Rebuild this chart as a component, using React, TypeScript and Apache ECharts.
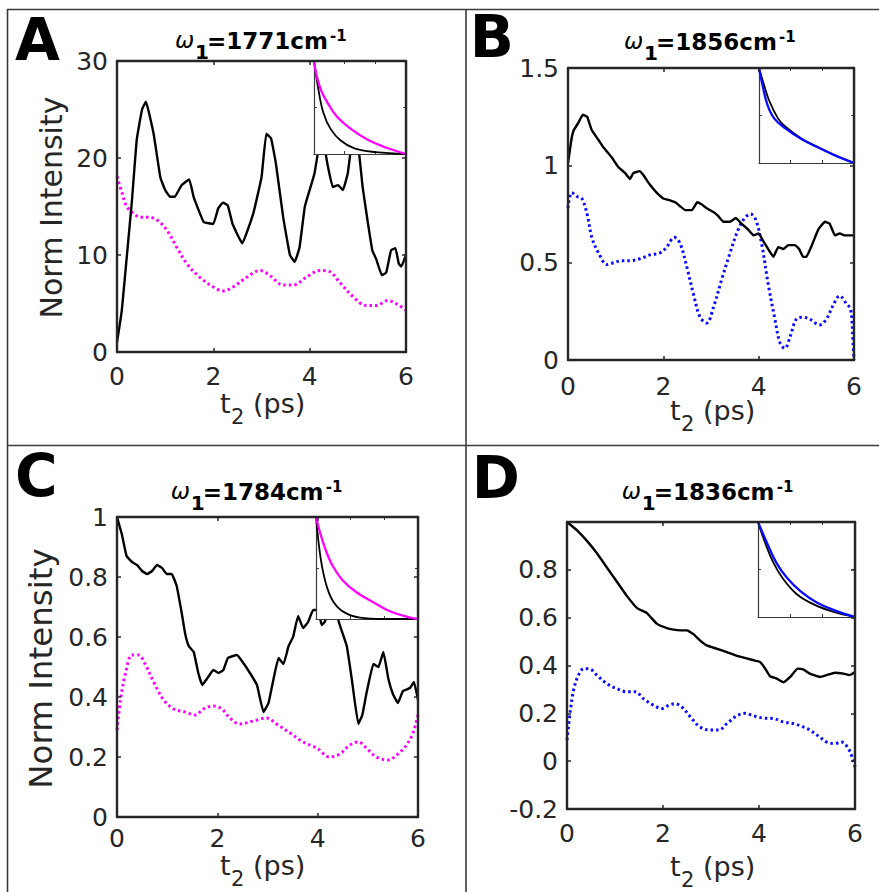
import { useEffect, useRef } from "react";
import * as echarts from "echarts";

const FONT = "'DejaVu Sans', 'Liberation Sans', Arial, sans-serif";
const AX = "#262626";

type P = [number, number];

// ---------- data ----------
const panelLetters = ["A", "B", "C", "D"];
const titleNumbers = ["1771", "1856", "1784", "1836"];
const xTicks = { min: 0, max: 6, interval: 2 };
const yRanges = [
  { min: 0, max: 30, interval: 10 },
  { min: 0, max: 1.5, interval: 0.5 },
  { min: 0, max: 1, interval: 0.2 },
  { min: -0.2, max: 1, interval: 0.2 },
];

const aBlack: P[] = [
  [0, 1.0], [0.1, 4.3], [0.21, 10.2], [0.31, 15.6], [0.41, 21.9], [0.52, 25], [0.6, 25.8],
  [0.76, 22.5], [0.9, 18], [1.0, 16.7], [1.1, 16], [1.2, 16], [1.34, 17.2], [1.5, 17.8],
  [1.59, 16], [1.8, 13.4], [2.0, 13.2], [2.1, 14.8], [2.2, 15.4], [2.3, 15.1], [2.4, 13.2],
  [2.6, 11.2], [2.83, 14.3], [3.0, 18], [3.1, 22.5], [3.2, 22], [3.3, 19.4], [3.45, 13.9],
  [3.59, 10], [3.69, 9.3], [3.79, 10.8], [3.9, 15], [4.03, 17.2], [4.1, 18.4], [4.17, 20.5],
  [4.25, 22.5], [4.34, 20.2], [4.38, 19.1], [4.48, 17], [4.59, 17.2], [4.69, 16.7],
  [4.79, 18.4], [4.84, 20.3], [4.93, 23], [5.03, 20.3], [5.1, 17], [5.2, 13.6], [5.3, 10.5],
  [5.38, 9.6], [5.5, 7.9], [5.59, 8.2], [5.69, 10.5], [5.78, 10.7], [5.85, 9.1], [5.9, 8.8],
  [6.0, 10],
];
const aMagenta: P[] = [
  [0, 18.1], [0.1, 16.5], [0.2, 15], [0.34, 14.3], [0.48, 13.9], [0.66, 13.9], [0.83, 13.6],
  [1.03, 12.6], [1.24, 10.8], [1.45, 9.1], [1.72, 7.7], [2.0, 6.7], [2.2, 6.3], [2.41, 6.7],
  [2.69, 7.7], [2.97, 8.4], [3.17, 7.9], [3.45, 6.9], [3.66, 6.9], [3.93, 7.7], [4.21, 8.4],
  [4.41, 8.3], [4.62, 7.2], [4.9, 5.7], [5.17, 4.8], [5.38, 4.8], [5.62, 5.3], [5.79, 5.0],
  [6, 4.3],
];
const bBlack: P[] = [
  [0, 1.01], [0.07, 1.13], [0.12, 1.18], [0.22, 1.22], [0.31, 1.26], [0.4, 1.25], [0.5, 1.18],
  [0.64, 1.13], [0.75, 1.09], [0.82, 1.07], [0.92, 1.04], [1.06, 0.99], [1.2, 0.96], [1.3, 0.93],
  [1.37, 0.96], [1.5, 0.97], [1.58, 0.95], [1.72, 0.9], [1.86, 0.86], [2.0, 0.83], [2.14, 0.82],
  [2.25, 0.81], [2.35, 0.79], [2.46, 0.77], [2.6, 0.77], [2.71, 0.81], [2.8, 0.8], [2.91, 0.78],
  [3.05, 0.76], [3.15, 0.74], [3.26, 0.71], [3.4, 0.71], [3.52, 0.73], [3.64, 0.7], [3.78, 0.67],
  [3.89, 0.64], [4.0, 0.65], [4.1, 0.61], [4.2, 0.57], [4.31, 0.53], [4.41, 0.58], [4.52, 0.57],
  [4.62, 0.59], [4.76, 0.59], [4.85, 0.57], [4.93, 0.53], [5.0, 0.53], [5.1, 0.58], [5.25, 0.67],
  [5.39, 0.71], [5.49, 0.7], [5.6, 0.64], [5.7, 0.65], [5.8, 0.64], [6.0, 0.64],
];
const bBlue: P[] = [
  [0, 0.78], [0.08, 0.86], [0.19, 0.84], [0.29, 0.83], [0.4, 0.75], [0.5, 0.63], [0.64, 0.55],
  [0.82, 0.49], [0.96, 0.5], [1.13, 0.51], [1.3, 0.51], [1.51, 0.52], [1.72, 0.54], [1.93, 0.55],
  [2.07, 0.58], [2.23, 0.63], [2.35, 0.6], [2.49, 0.48], [2.63, 0.34], [2.77, 0.22], [2.91, 0.19],
  [3.05, 0.27], [3.22, 0.41], [3.4, 0.55], [3.57, 0.67], [3.71, 0.73], [3.83, 0.75], [3.94, 0.72],
  [4.06, 0.6], [4.2, 0.39], [4.34, 0.21], [4.45, 0.086], [4.55, 0.06], [4.66, 0.12], [4.79, 0.21],
  [4.93, 0.22], [5.07, 0.21], [5.28, 0.18], [5.42, 0.21], [5.56, 0.28], [5.7, 0.33], [5.84, 0.29],
  [5.93, 0.26], [5.98, 0.086], [6, 0],
];
const cBlack: P[] = [
  [0, 1.0], [0.1, 0.94], [0.19, 0.87], [0.3, 0.85], [0.4, 0.84], [0.5, 0.82], [0.6, 0.81],
  [0.7, 0.82], [0.8, 0.84], [0.9, 0.83], [0.99, 0.81], [1.09, 0.81], [1.19, 0.77], [1.29, 0.68],
  [1.36, 0.61], [1.43, 0.57], [1.53, 0.55], [1.62, 0.48], [1.7, 0.44], [1.79, 0.46], [1.92, 0.49],
  [2.02, 0.48], [2.12, 0.49], [2.21, 0.53], [2.39, 0.54], [2.49, 0.52], [2.65, 0.48], [2.79, 0.44],
  [2.92, 0.35], [3.02, 0.38], [3.12, 0.46], [3.22, 0.53], [3.32, 0.51], [3.42, 0.57], [3.51, 0.6],
  [3.61, 0.67], [3.71, 0.63], [3.81, 0.65], [3.91, 0.69], [4.01, 0.69], [4.08, 0.64], [4.14, 0.65],
  [4.25, 0.7], [4.35, 0.69], [4.44, 0.64], [4.58, 0.57], [4.68, 0.46], [4.81, 0.31], [4.89, 0.34],
  [4.97, 0.41], [5.11, 0.51], [5.21, 0.5], [5.31, 0.55], [5.41, 0.46], [5.5, 0.41], [5.6, 0.38],
  [5.7, 0.42], [5.84, 0.43], [5.92, 0.45], [6, 0.39],
];
const cMagenta: P[] = [
  [0, 0.29], [0.07, 0.39], [0.17, 0.48], [0.3, 0.54], [0.43, 0.54], [0.56, 0.51], [0.73, 0.45],
  [0.93, 0.39], [1.13, 0.36], [1.36, 0.35], [1.56, 0.34], [1.72, 0.36], [1.92, 0.37], [2.09, 0.36],
  [2.25, 0.33], [2.45, 0.31], [2.72, 0.32], [2.98, 0.33], [3.18, 0.31], [3.45, 0.28], [3.71, 0.25],
  [3.98, 0.23], [4.24, 0.2], [4.44, 0.21], [4.64, 0.24], [4.81, 0.25], [4.97, 0.23], [5.17, 0.2],
  [5.4, 0.19], [5.6, 0.21], [5.77, 0.24], [5.9, 0.28], [6, 0.34],
];
const dBlack: P[] = [
  [0, 1.0], [0.21, 0.965], [0.42, 0.92], [0.62, 0.87], [0.83, 0.81], [1.04, 0.75], [1.25, 0.69],
  [1.46, 0.64], [1.66, 0.62], [1.87, 0.575], [2.08, 0.556], [2.22, 0.55], [2.36, 0.547],
  [2.5, 0.547], [2.64, 0.53], [2.77, 0.505], [2.91, 0.484], [3.12, 0.47], [3.33, 0.456],
  [3.54, 0.44], [3.74, 0.43], [3.92, 0.42], [4.02, 0.415], [4.13, 0.387], [4.23, 0.355],
  [4.37, 0.345], [4.51, 0.33], [4.65, 0.352], [4.8, 0.387], [4.92, 0.384], [5.06, 0.366],
  [5.27, 0.352], [5.41, 0.36], [5.58, 0.37], [5.76, 0.366], [5.89, 0.36], [6, 0.373],
];
const dBlue: P[] = [
  [0, 0.088], [0.07, 0.21], [0.14, 0.3], [0.24, 0.36], [0.35, 0.387], [0.49, 0.384], [0.62, 0.36],
  [0.83, 0.324], [1.04, 0.303], [1.25, 0.29], [1.42, 0.29], [1.6, 0.26], [1.8, 0.234], [1.98, 0.22],
  [2.12, 0.234], [2.25, 0.24], [2.39, 0.227], [2.57, 0.185], [2.77, 0.143], [2.98, 0.13],
  [3.16, 0.13], [3.33, 0.157], [3.54, 0.19], [3.71, 0.2], [3.88, 0.19], [4.09, 0.18], [4.3, 0.178],
  [4.51, 0.164], [4.72, 0.157], [4.92, 0.143], [5.06, 0.13], [5.27, 0.1], [5.41, 0.08],
  [5.58, 0.074], [5.72, 0.08], [5.86, 0.053], [5.95, 0.011], [6, -0.024],
];

// insets (normalised decay curves)
const aInsetBlack: P[] = [[0, 1], [0.27, 0.71], [0.6, 0.45], [1.08, 0.27], [1.74, 0.145], [2.64, 0.06], [4.02, 0.02], [6, 0]];
const aInsetMagenta: P[] = [[0, 1], [0.16, 0.85], [0.5, 0.67], [0.96, 0.53], [1.5, 0.4], [2.4, 0.27], [3.54, 0.15], [4.68, 0.07], [6, 0]];
const bInsetBlack: P[] = [[0, 1], [0.32, 0.82], [0.66, 0.65], [1.2, 0.47], [1.62, 0.39], [2.7, 0.255], [3.78, 0.163], [4.8, 0.082], [6, 0]];
const bInsetBlue: P[] = [[0, 1], [0.22, 0.82], [0.54, 0.61], [0.96, 0.47], [1.62, 0.37], [2.7, 0.25], [3.78, 0.16], [4.8, 0.08], [6, 0]];
const cInsetBlack: P[] = [[0, 1], [0.16, 0.74], [0.36, 0.51], [0.65, 0.31], [1.02, 0.17], [1.62, 0.07], [2.58, 0.013], [3.96, 0], [6, 0]];
const cInsetMagenta: P[] = [[0, 1], [0.25, 0.84], [0.65, 0.64], [1.02, 0.51], [1.62, 0.37], [2.4, 0.26], [3.42, 0.16], [4.38, 0.073], [5.55, 0.013], [6, 0]];
const dInsetBlack: P[] = [[0, 1], [0.42, 0.79], [0.96, 0.57], [1.56, 0.4], [2.4, 0.24], [3.48, 0.13], [4.74, 0.05], [6, 0]];
const dInsetBlue: P[] = [[0, 1], [0.53, 0.79], [1.14, 0.57], [1.8, 0.41], [2.64, 0.27], [3.66, 0.15], [4.74, 0.07], [6, 0]];

// ---------- layout ----------
const MAGENTA = "#ff00ff";
const BLUE = "#0a0aff";
const colors = [MAGENTA, BLUE, MAGENTA, BLUE];
const mainData = [[aBlack, aMagenta], [bBlack, bBlue], [cBlack, cMagenta], [dBlack, dBlue]];
const insetData = [[aInsetBlack, aInsetMagenta], [bInsetBlack, bInsetBlue], [cInsetBlack, cInsetMagenta], [dInsetBlack, dInsetBlue]];

const mainGrids = [
  { left: 117, top: 61, width: 289, height: 291 },
  { left: 568, top: 68, width: 286, height: 292 },
  { left: 117, top: 517, width: 301, height: 300 },
  { left: 567, top: 522, width: 288, height: 287 },
];
const insetGrids = [
  { left: 314, top: 61, width: 92, height: 93 },
  { left: 759, top: 68, width: 95, height: 95 },
  { left: 316, top: 517, width: 102, height: 102 },
  { left: 758, top: 522, width: 97, height: 95 },
];
const xLabelMargin = [12, 14, 9, 12];
const letterPos = [[15, 60], [469.7, 57], [15, 496.5], [471.7, 498]];
const titlePos = [[175, 49], [624, 50], [170.7, 500], [621.7, 499.5]];
const xNamePos = [[220, 413], [670, 420], [220, 875], [670, 876]];
const yNamePos: (null | [number, number, number])[] = [[51.6, 207.5, 30], null, [40.5, 668.5, 32.5], null];

function buildOption() {
  const grid: any[] = [];
  const xAxis: any[] = [];
  const yAxis: any[] = [];
  const series: any[] = [];
  const graphic: any[] = [];

  const fmt = (v: number) => String(Math.round(v * 1000) / 1000);

  for (let i = 0; i < 4; i++) {
    const gm = grid.length;
    grid.push({ ...mainGrids[i], containLabel: false, show: false });
    const yr = yRanges[i];
    const mainLine = { onZero: false, lineStyle: { color: AX, width: 2.4 } };
    const mainTick = { inside: true, length: 4, lineStyle: { color: AX, width: 1.5 } };
    xAxis.push({
      type: "value", gridIndex: gm, position: "bottom", ...xTicks, z: 10,
      axisLine: mainLine, axisTick: mainTick, splitLine: { show: false },
      axisLabel: { color: AX, fontSize: 25, fontFamily: FONT, margin: xLabelMargin[i], formatter: fmt },
    });
    xAxis.push({
      type: "value", gridIndex: gm, position: "top", ...xTicks, z: 10,
      axisLine: mainLine, axisTick: mainTick, splitLine: { show: false }, axisLabel: { show: false },
    });
    yAxis.push({
      type: "value", gridIndex: gm, position: "left", ...yr, z: 10,
      axisLine: mainLine, axisTick: mainTick, splitLine: { show: false },
      axisLabel: {
        color: AX, fontSize: 25, fontFamily: FONT, margin: 9,
        formatter: (v: number) => (i === 3 && Math.abs(v - 1) < 1e-6 ? "" : fmt(v)),
      },
    });
    yAxis.push({
      type: "value", gridIndex: gm, position: "right", ...yr, z: 10,
      axisLine: mainLine, axisTick: mainTick, splitLine: { show: false }, axisLabel: { show: false },
    });
    const xi = xAxis.length - 2;
    const yi = yAxis.length - 2;
    series.push({
      type: "line", xAxisIndex: xi, yAxisIndex: yi, data: mainData[i][0], showSymbol: false, symbol: "none",
      smooth: 0.1, lineStyle: { color: "#000", width: 2.4 }, z: 3, clip: true,
    });
    series.push({
      type: "line", xAxisIndex: xi, yAxisIndex: yi, data: mainData[i][1], showSymbol: false, symbol: "none",
      smooth: 0.35, lineStyle: { color: colors[i], width: 3, type: [2.5, 3] }, z: 2, clip: true,
    });

    // inset
    const gi = grid.length;
    grid.push({ ...insetGrids[i], show: true, backgroundColor: "#fff", borderWidth: 0, z: 5 });
    const inLine = { onZero: false, lineStyle: { color: "#3a3a3a", width: 1.2 } };
    const inTick = { inside: true, length: 3, lineStyle: { color: "#3a3a3a", width: 1 } };
    for (const pos of ["bottom", "top"]) {
      xAxis.push({
        type: "value", gridIndex: gi, position: pos, ...xTicks, z: 6,
        axisLine: inLine, axisTick: inTick, splitLine: { show: false }, axisLabel: { show: false },
      });
    }
    for (const pos of ["left", "right"]) {
      yAxis.push({
        type: "value", gridIndex: gi, position: pos, min: 0, max: 1, interval: 0.5, z: 6,
        axisLine: inLine, axisTick: inTick, splitLine: { show: false }, axisLabel: { show: false },
      });
    }
    const ixi = xAxis.length - 2;
    const iyi = yAxis.length - 2;
    series.push({
      type: "line", xAxisIndex: ixi, yAxisIndex: iyi, data: insetData[i][0], showSymbol: false, symbol: "none",
      smooth: 0.4, lineStyle: { color: "#000", width: 1.8 }, z: 7, clip: true,
    });
    series.push({
      type: "line", xAxisIndex: ixi, yAxisIndex: iyi, data: insetData[i][1], showSymbol: false, symbol: "none",
      smooth: 0.4, lineStyle: { color: colors[i], width: 2.3 }, z: 7, clip: true,
    });

    // panel letter
    graphic.push({
      type: "text", x: letterPos[i][0], y: letterPos[i][1] - 0.346 * 58, z: 20,
      style: { text: panelLetters[i], fontSize: 58, fontWeight: "bold", fontFamily: FONT, fill: "#000", textAlign: "left", textVerticalAlign: "middle", verticalAlign: "middle" },
    });
    // title
    const [L, B] = titlePos[i];
    const ts = (text: string, size: number, extra: any = {}) => ({
      text, fontSize: size, fontFamily: FONT, fill: "#000", textAlign: "left", textVerticalAlign: "middle", verticalAlign: "middle", ...extra,
    });
    graphic.push({ type: "text", x: L, y: B - 1 - 0.346 * 23, z: 20, style: ts("ω", 23, { fontStyle: "italic" }) });
    graphic.push({ type: "text", x: L + 20, y: B + 10 - 0.346 * 20, z: 20, style: ts("1", 20, { fontWeight: "bold" }) });
    graphic.push({ type: "text", x: L + 32, y: B - 0.346 * 23, z: 20, style: ts("=" + titleNumbers[i] + "cm", 23, { fontWeight: "bold" }) });
    graphic.push({ type: "text", x: L + 155, y: B - 7.5 - 0.346 * 15, z: 20, style: ts("-1", 15, { fontWeight: "bold" }) });

    // x axis name t2 (ps)
    const [tx, tb] = xNamePos[i];
    const ns = (text: string, size: number) => ({
      text, fontSize: size, fontFamily: FONT, fill: AX, textAlign: "left", textVerticalAlign: "middle", verticalAlign: "middle",
    });
    graphic.push({ type: "text", x: tx, y: tb - 0.346 * 27, z: 20, style: ns("t", 27) });
    graphic.push({ type: "text", x: tx + 11, y: tb + 11 - 0.346 * 21, z: 20, style: ns("2", 21) });
    graphic.push({ type: "text", x: tx + 33, y: tb - 0.346 * 27, z: 20, style: ns("(ps)", 27) });

    // y axis name
    const yn = yNamePos[i];
    if (yn) {
      graphic.push({
        type: "text", x: yn[0], y: yn[1], rotation: Math.PI / 2, z: 20,
        style: { text: "Norm Intensity", fontSize: yn[2], fontFamily: FONT, fill: AX, textAlign: "center", textVerticalAlign: "middle", verticalAlign: "middle" },
      });
    }
  }

  // figure frame
  const frame = [
    [7.5, 9, 7.5, 892],
    [7, 9.5, 879, 9.5],
    [466, 9, 466, 892],
    [7, 445.5, 879, 445.5],
  ];
  for (const [x1, y1, x2, y2] of frame) {
    graphic.push({ type: "line", z: 20, shape: { x1, y1, x2, y2 }, style: { stroke: "#3c3c3c", lineWidth: 1.6 } });
  }

  return {
    animation: false,
    backgroundColor: "#fff",
    textStyle: { fontFamily: FONT },
    grid, xAxis, yAxis, series, graphic,
  };
}

export default function App() {
  const ref = useRef<HTMLDivElement>(null);
  useEffect(() => {
    if (!ref.current) return;
    const chart = echarts.init(ref.current, null, { renderer: "svg" });
    chart.setOption(buildOption() as any);
    return () => chart.dispose();
  }, []);
  return (
    <div
      ref={ref}
      style={{ position: "absolute", left: 0, top: 0, width: 879, height: 892, background: "#fff" }}
    />
  );
}
